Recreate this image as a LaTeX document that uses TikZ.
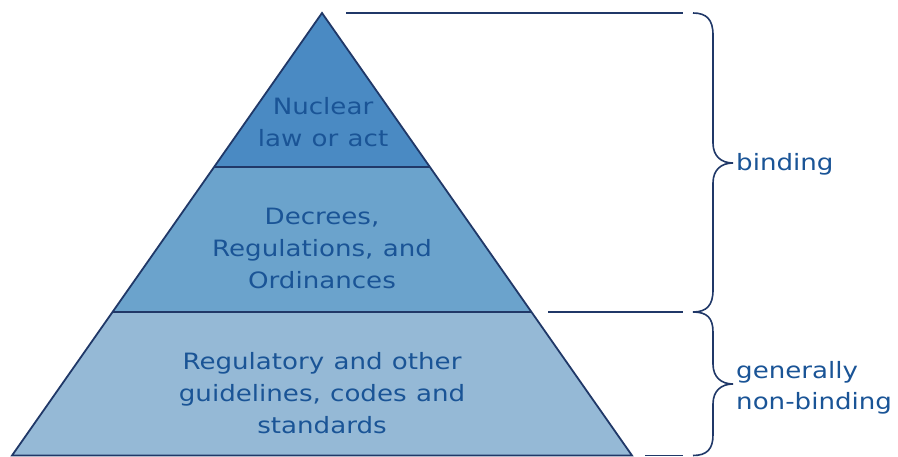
\documentclass[tikz,border=0pt]{standalone}
\usepackage{fontspec}
\setmainfont{DejaVu Sans}[FakeStretch=1.16,WordSpace=1.12]
\begin{document}
\begin{tikzpicture}[x=1pt,y=-1pt,
  edge/.style={draw=navy,line width=1.8pt,line join=miter},
  brace/.style={draw=navy,line width=1.6pt},
  lbl/.style={text=txtblue,font=\fontsize{22.5}{32}\selectfont,align=center,inner sep=0pt},
  side/.style={text=txtblue,font=\fontsize{22.5}{31}\selectfont,align=left,inner sep=0pt,anchor=west}]
\definecolor{navy}{RGB}{32,56,104}
\definecolor{txtblue}{RGB}{26,84,150}
\definecolor{topfill}{RGB}{74,138,195}
\definecolor{midfill}{RGB}{107,163,204}
\definecolor{botfill}{RGB}{149,185,214}
\useasboundingbox (0,0) rectangle (898,457);
% pyramid corners
\coordinate (apex) at (322,13);
\coordinate (l1) at (214.2,167);
\coordinate (r1) at (429.8,167);
\coordinate (l2) at (112.7,312);
\coordinate (r2) at (531.3,312);
\coordinate (l3) at (12,455.5);
\coordinate (r3) at (632,455.5);
\fill[botfill] (l2) -- (r2) -- (r3) -- (l3) -- cycle;
\fill[midfill] (l1) -- (r1) -- (r2) -- (l2) -- cycle;
\fill[topfill] (apex) -- (r1) -- (l1) -- cycle;
\draw[edge] (apex) -- (r3) -- (l3) -- cycle;
\draw[edge] (l1) -- (r1);
\draw[edge] (l2) -- (r2);
% texts
\node[lbl] (t1) at (323,122) {Nuclear\\law or act};
\node[lbl] (t2) at (322,248) {Decrees,\\Regulations, and\\Ordinances};
\node[lbl] (t3) at (322,393) {Regulatory and other\\guidelines, codes and\\standards};
% level lines
\coordinate (h1a) at (346,13);
\coordinate (h1b) at (683,13);
\coordinate (h2a) at (548,312);
\coordinate (h2b) at (683,312);
\coordinate (h3a) at (645,455.5);
\coordinate (h3b) at (683,455.5);
\draw[brace] (h1a) -- (h1b);
\draw[brace] (h2a) -- (h2b);
\draw[brace] (h3a) -- (h3b);
% braces
\coordinate (b1s) at (693,13);
\coordinate (b1t) at (733,163);
\coordinate (b12) at (693,312);
\coordinate (b2t) at (733,384);
\coordinate (b2e) at (693,455.5);
\draw[brace] (b1s) .. controls (707,13) and (713,20) .. (713,35) -- (713,143)
  .. controls (713,156) and (721,163) .. (b1t)
  .. controls (721,163) and (713,170) .. (713,183) -- (713,290)
  .. controls (713,305) and (707,312) .. (b12);
\draw[brace] (b12) .. controls (707,312) and (713,318) .. (713,332) -- (713,364)
  .. controls (713,377) and (721,384) .. (b2t)
  .. controls (721,384) and (713,391) .. (713,404) -- (713,435)
  .. controls (713,449) and (707,455.5) .. (b2e);
\node[side] (s1) at (736,164) {binding};
\node[side] (s2) at (736,388) {generally\\non-binding};
\end{tikzpicture}
\end{document}
